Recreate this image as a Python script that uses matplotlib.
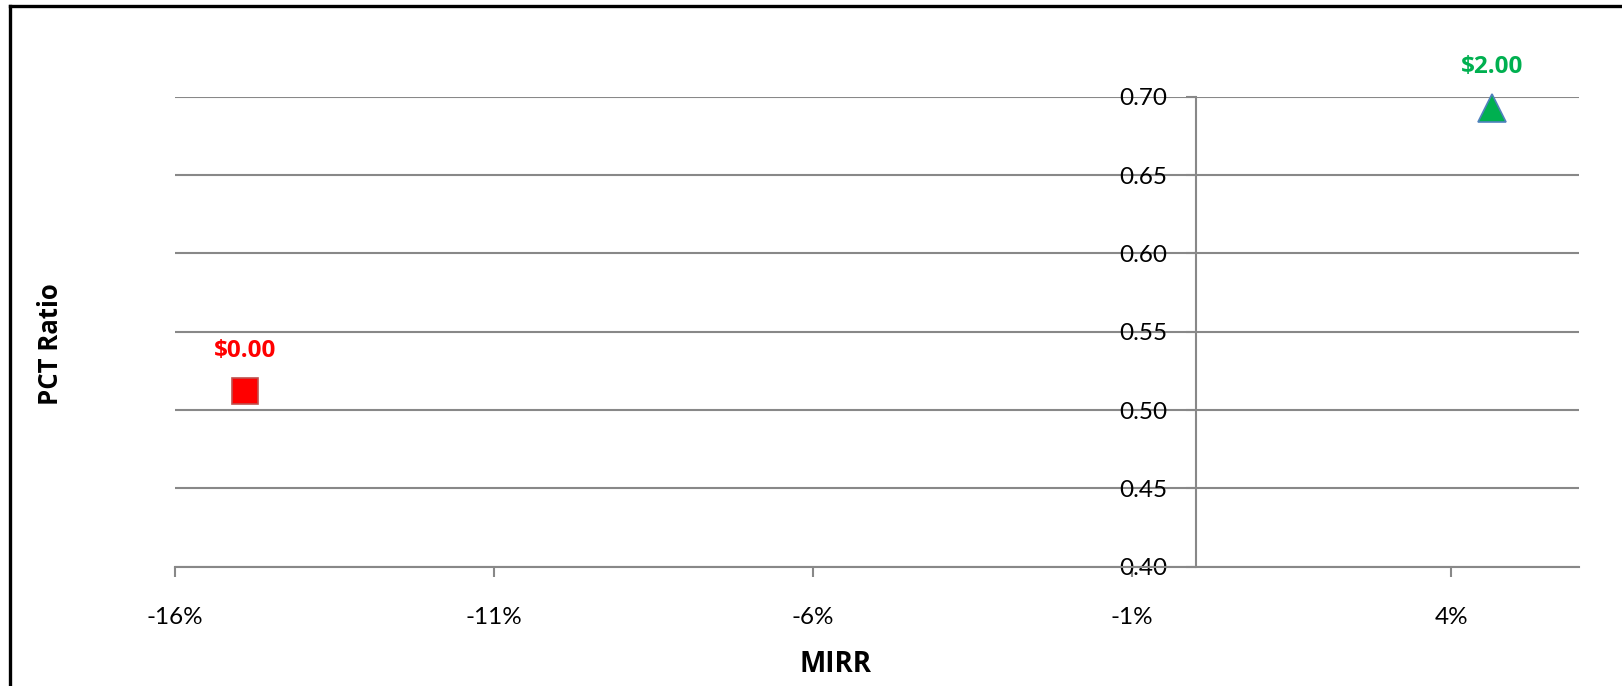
import matplotlib
matplotlib.use("Agg")
import matplotlib.pyplot as plt
from matplotlib.lines import Line2D
from matplotlib.ticker import FuncFormatter

plt.rcParams['font.family'] = ['Lato', 'DejaVu Sans']
BOLD = ['Open Sans', 'DejaVu Sans']

# data
mirr = [-0.149, 0.0463]
pct_ratio = [0.512, 0.693]
labels = ['$0.00', '$2.00']
markers = ['s', '^']
fills = ['#FF0000', '#00B050']
edges = ['#C0504D', '#4F81BD']
text_colors = ['#FF0000', '#00B050']

x_ticks = [-0.16, -0.11, -0.06, -0.01, 0.04]
y_ticks = [0.40, 0.45, 0.50, 0.55, 0.60, 0.65, 0.70]

fig = plt.figure(figsize=(16.22, 6.86), dpi=100)
ax = fig.add_axes([0.1079, 0.1739, 0.9735 - 0.1079, 0.859 - 0.1739])

grey = '#888888'
for i in range(len(mirr)):
    ax.plot(mirr[i], pct_ratio[i], marker=markers[i], markersize=19 if markers[i] == 's' else 20,
            markerfacecolor=fills[i], markeredgecolor=edges[i], markeredgewidth=1.2,
            linestyle='none', zorder=5, clip_on=False)
    ax.annotate(labels[i], (mirr[i], pct_ratio[i]), xytext=(0, 29), textcoords='offset points',
                ha='center', va='center', color=text_colors[i], fontsize=17.5,
                fontweight='bold', family=BOLD)

ax.set_xlim(-0.16, 0.06)
ax.set_ylim(0.40, 0.70)
ax.set_xticks(x_ticks)
ax.set_yticks(y_ticks)
ax.xaxis.set_major_formatter(FuncFormatter(lambda v, p: '{:.0f}%'.format(v * 100)))
ax.yaxis.set_major_formatter(FuncFormatter(lambda v, p: '{:.2f}'.format(v)))

ax.grid(axis='y', color=grey, linewidth=1.5, zorder=0)
ax.set_axisbelow(True)

ax.spines['top'].set_visible(False)
ax.spines['right'].set_visible(False)
ax.spines['left'].set_position(('data', 0))
ax.spines['left'].set_color(grey)
ax.spines['left'].set_linewidth(1.5)
ax.spines['bottom'].set_color(grey)
ax.spines['bottom'].set_linewidth(1.5)

ax.tick_params(axis='both', direction='out', length=7, width=1.5, color=grey,
               labelsize=17.5, labelcolor='black')
ax.tick_params(axis='y', pad=14)
ax.tick_params(axis='x', pad=22)

fig.text(0.031, 0.499, 'PCT Ratio', rotation=90, ha='center', va='center',
         fontsize=18.5, fontweight='bold', family=BOLD)
fig.text(0.515, 0.031, 'MIRR', ha='center', va='center', fontsize=20,
         fontweight='bold', family=BOLD)

# partial chart frame (left and top edges)
fx = 10 / 1622
fy = 1 - 6 / 686
fig.add_artist(Line2D([fx, fx], [0, fy], color='black', linewidth=2.4, transform=fig.transFigure))
fig.add_artist(Line2D([fx, 1], [fy, fy], color='black', linewidth=2.4, transform=fig.transFigure))

fig.savefig('out.png', dpi=100)
